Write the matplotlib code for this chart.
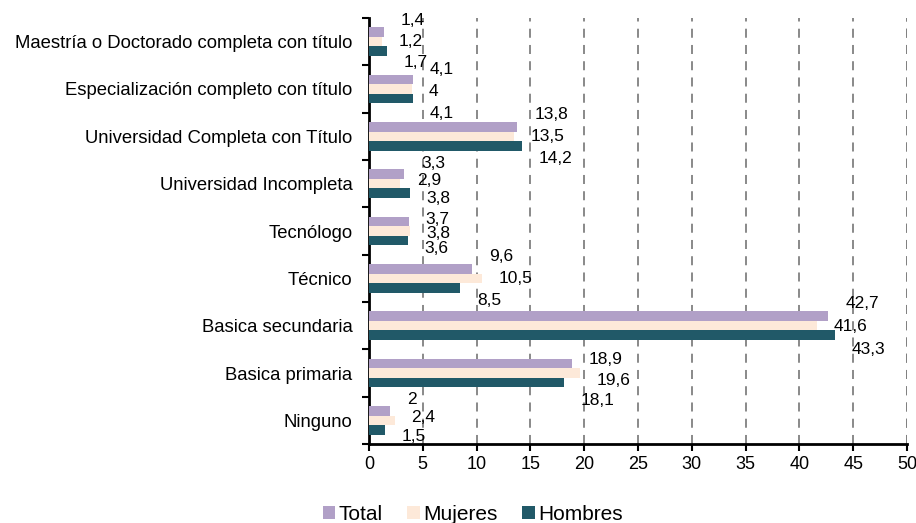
import numpy as np
import matplotlib
matplotlib.use("Agg")
import matplotlib.pyplot as plt
from matplotlib.patches import Patch

plt.rcParams['font.family'] = ['Liberation Sans', 'DejaVu Sans']

# datos (de arriba hacia abajo)
categorias = ["Maestría o Doctorado completa con título",
              "Especialización completo con título",
              "Universidad Completa con Título",
              "Universidad Incompleta",
              "Tecnólogo",
              "Técnico",
              "Basica secundaria",
              "Basica primaria",
              "Ninguno"]
total = [1.4, 4.1, 13.8, 3.3, 3.7, 9.6, 42.7, 18.9, 2.0]
mujeres = [1.2, 4.0, 13.5, 2.9, 3.8, 10.5, 41.6, 19.6, 2.4]
hombres = [1.7, 4.1, 14.2, 3.8, 3.6, 8.5, 43.3, 18.1, 1.5]
series = ["Total", "Mujeres", "Hombres"]
colores = ["#B1A0C7", "#FDE9D9", "#215968"]

# ubicacion vertical de las etiquetas de datos (desplazamiento y separacion por grupo)
desp_etiq = [0.0, 0.05, 0.0, -0.06, 0.06, 0.0, 0.02, 0.15, -0.05]
sep_etiq = [0.44, 0.47, 0.47, 0.37, 0.30, 0.47, 0.48, 0.44, 0.39]

fig = plt.figure(figsize=(9.16, 5.23), dpi=100)
ax = fig.add_axes([0.4028, 0.151, 0.5874, 0.8146])

y = np.arange(len(categorias))
h = 0.2
for k, (vals, nombre, c) in enumerate(zip([total, mujeres, hombres], series, colores)):
    pos = y + (k - 1) * h
    ax.barh(pos, vals, height=h, color=c, zorder=3)
    for i, v in enumerate(vals):
        yy = y[i] + desp_etiq[i] + (k - 1) * sep_etiq[i]
        ax.annotate(f"{v:g}".replace(".", ","), (v, yy),
                    xytext=(12, 0), textcoords="offset points",
                    ha="left", va="center", fontsize=12.5, zorder=4)

ax.set_xlim(0, 50)
ax.set_ylim(len(categorias) - 0.5, -0.5)
ax.set_xticks(np.arange(0, 51, 5))
ax.tick_params(axis="x", labelsize=13, length=5, width=1.5, direction="out")

# ticks en los limites de categoria, etiquetas en el centro
ax.set_yticks(np.arange(-0.5, len(categorias), 1))
ax.set_yticklabels([])
ax.set_yticks(y, minor=True)
ax.set_yticklabels(categorias, minor=True, fontsize=13.3)
ax.tick_params(axis="y", which="major", length=5, width=1.5)
ax.tick_params(axis="y", which="minor", length=0, pad=12)

ax.grid(axis="x", linestyle=(0, (5, 4)), color="#808080", linewidth=1.3, zorder=0)
for s in ["top", "right"]:
    ax.spines[s].set_visible(False)
for s in ["left", "bottom"]:
    ax.spines[s].set_linewidth(2)
ax.axvline(50, linestyle=(0, (5, 4)), color="#808080", linewidth=1.3, zorder=0)

handles = [Patch(facecolor=c, label=n) for n, c in zip(series, colores)]
fig.legend(handles=handles, loc="center", bbox_to_anchor=(0.516, 0.017), ncol=3,
           frameon=False, fontsize=15, handlelength=0.6, handleheight=0.6,
           handletextpad=0.15, columnspacing=1.2)

fig.savefig("out.png", dpi=100)
